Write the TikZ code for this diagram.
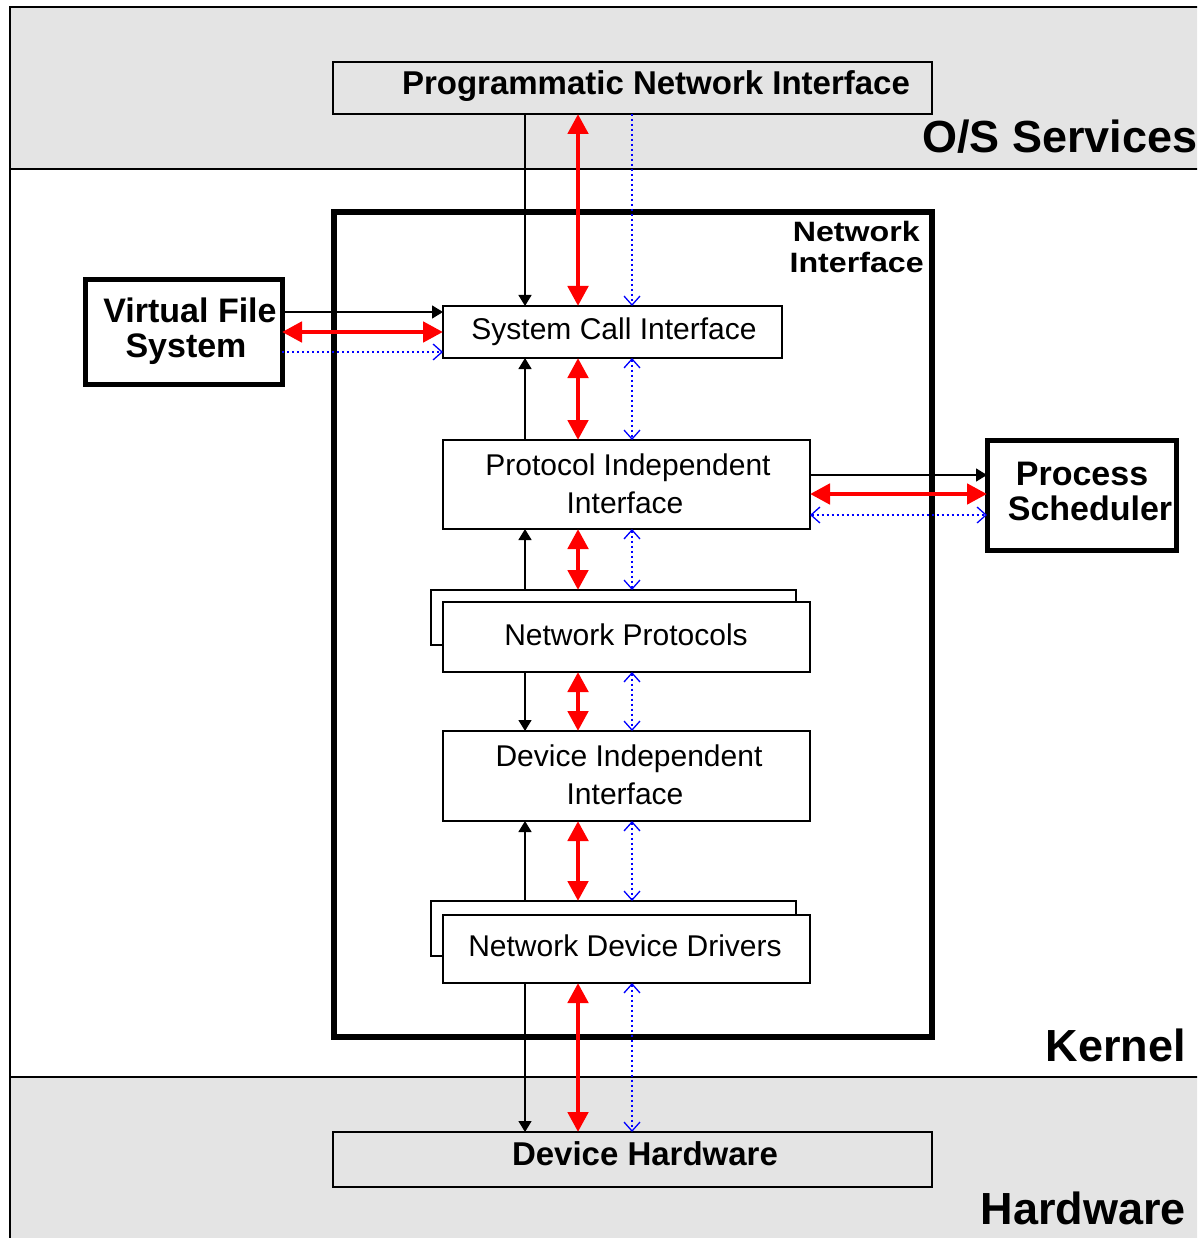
\documentclass[tikz,border=0pt]{standalone}
\usepackage{fontspec}
\setmainfont{Liberation Sans}
\newfontfamily\widefont[FakeStretch=1.15]{Liberation Sans}
\usetikzlibrary{arrows.meta}
\definecolor{bandgray}{RGB}{228,228,228}
\tikzset{
  thinbox/.style={draw, line width=1.5pt, fill=white, inner sep=0pt, outer sep=0pt, anchor=north west},
  graybox/.style={thinbox, fill=bandgray},
  thickbox/.style={draw, line width=5pt, fill=white, inner sep=0pt, outer sep=0pt, anchor=north west},
  txt/.style={inner sep=0pt, anchor=base, font=\fontsize{30}{36}\selectfont},
  btxt/.style={inner sep=0pt, anchor=base, font=\fontsize{33}{36}\selectfont\bfseries},
  btxtl/.style={inner sep=0pt, anchor=base, font=\fontsize{34}{36}\selectfont\bfseries},
  bigtxt/.style={inner sep=0pt, font=\fontsize{45}{50}\selectfont\bfseries},
  nitxt/.style={inner sep=0pt, anchor=base east, font=\fontsize{28}{30}\selectfont\widefont\bfseries},
  blk/.style={line width=1.4pt, -{Triangle[length=11pt,width=13pt]}},
  redarr/.style={line width=4.8pt, red, {Triangle[length=20pt,width=20pt]}-{Triangle[length=20pt,width=20pt]}},
  bluearr/.style={line width=1.6pt, blue, dash pattern=on 2pt off 3pt, -{Straight Barb[length=9pt,width=16pt,line width=1.3pt]}},
  bluearrs/.style={line width=1.6pt, blue, dash pattern=on 2pt off 3pt, {Straight Barb[length=9pt,width=16pt,line width=1.3pt]}-{Straight Barb[length=9pt,width=16pt,line width=1.3pt]}},
}
\begin{document}
\begin{tikzpicture}[x=1pt,y=-1pt]
\useasboundingbox (0,0) rectangle (1197,1238);
\clip (0,0) rectangle (1197,1238);
% bands
\fill[white] (0,0) rectangle (1197,1238);
\fill[bandgray] (10,7) rectangle (1220,169);
\fill[bandgray] (10,1077) rectangle (1220,1260);
\draw[line width=2pt] (1220,7) -- (10,7) -- (10,1260);
\draw[line width=1.5pt] (10,169) -- (1220,169);
\draw[line width=1.5pt] (10,1077) -- (1220,1077);
% band labels
\node[bigtxt, anchor=base west] (oss) at (922,153) {O/S Services};
\node[bigtxt, anchor=base east] (kern) at (1186,1061) {Kernel};
\node[bigtxt, anchor=base east] (hw) at (1186,1224) {Hardware};
% network interface frame
\node[draw, line width=5.5pt, inner sep=0pt, outer sep=0pt, anchor=north west, minimum width=598pt, minimum height=825pt] (ni) at (334,212) {};
\node[nitxt] (ni1) at (920,242) {Network};
\node[nitxt] (ni2) at (924,273) {Interface};
% boxes
\node[graybox, minimum width=599pt, minimum height=52pt] (pni) at (333,62) {};
\node[btxt] (pnit) at (656,95) {Programmatic Network Interface};
\node[graybox, minimum width=599pt, minimum height=55pt] (dh) at (333,1132) {};
\node[btxt] (dht) at (645,1165) {Device Hardware};
\node[thickbox, minimum width=197pt, minimum height=104pt] (vfs) at (85,280) {};
\node[btxtl] (vfs1) at (190,323) {Virtual File};
\node[btxtl] (vfs2) at (186,357) {System};
\node[thickbox, minimum width=189pt, minimum height=110pt] (ps) at (987,440) {};
\node[btxtl] (ps1) at (1082,485) {Process};
\node[btxtl] (ps2) at (1090,520) {Scheduler};
\node[thinbox, minimum width=339pt, minimum height=52pt] (sci) at (443,306) {};
\node[txt] (scit) at (614,339) {System Call Interface};
\node[thinbox, minimum width=367pt, minimum height=89pt] (pii) at (443,440) {};
\node[txt] (pii1) at (628,475) {Protocol Independent};
\node[txt] (pii2) at (625,513) {Interface};
\node[thinbox, minimum width=365pt, minimum height=55pt] (npb) at (431,590) {};
\node[thinbox, minimum width=367pt, minimum height=70pt] (npf) at (443,602) {};
\node[txt] (npt) at (626,645) {Network Protocols};
\node[thinbox, minimum width=367pt, minimum height=90pt] (dii) at (443,731) {};
\node[txt] (dii1) at (629,766) {Device Independent};
\node[txt] (dii2) at (625,804) {Interface};
\node[thinbox, minimum width=365pt, minimum height=55pt] (nddb) at (431,901) {};
\node[thinbox, minimum width=367pt, minimum height=68pt] (nddf) at (443,915) {};
\node[txt] (nddt) at (625,956) {Network Device Drivers};
% connector columns / rows
\coordinate (xk) at (525,0);
\coordinate (xr) at (578,0);
\coordinate (xb) at (632,0);
\coordinate (yk1) at (0,312);
\coordinate (yr1) at (0,332);
\coordinate (yb1) at (0,352);
\coordinate (yk2) at (0,475);
\coordinate (yr2) at (0,494);
\coordinate (yb2) at (0,515);
% PNI - SCI
\draw[blk] (pni.south -| xk) -- (sci.north -| xk);
\draw[redarr] (pni.south -| xr) -- (sci.north -| xr);
\draw[bluearr] (pni.south -| xb) -- (sci.north -| xb);
% SCI - PII
\draw[blk] (pii.north -| xk) -- (sci.south -| xk);
\draw[redarr] (sci.south -| xr) -- (pii.north -| xr);
\draw[bluearrs] (sci.south -| xb) -- (pii.north -| xb);
% PII - NP
\draw[blk] (npb.north -| xk) -- (pii.south -| xk);
\draw[redarr] (pii.south -| xr) -- (npb.north -| xr);
\draw[bluearrs] (pii.south -| xb) -- (npb.north -| xb);
% NP - DII
\draw[blk] (npf.south -| xk) -- (dii.north -| xk);
\draw[redarr] (npf.south -| xr) -- (dii.north -| xr);
\draw[bluearrs] (npf.south -| xb) -- (dii.north -| xb);
% DII - NDD
\draw[blk] (nddb.north -| xk) -- (dii.south -| xk);
\draw[redarr] (dii.south -| xr) -- (nddb.north -| xr);
\draw[bluearrs] (dii.south -| xb) -- (nddb.north -| xb);
% NDD - DH
\draw[blk] (nddf.south -| xk) -- (dh.north -| xk);
\draw[redarr] (nddf.south -| xr) -- (dh.north -| xr);
\draw[bluearrs] (nddf.south -| xb) -- (dh.north -| xb);
% VFS - SCI
\draw[blk] (vfs.east |- yk1) -- (sci.west |- yk1);
\draw[redarr] (vfs.east |- yr1) -- (sci.west |- yr1);
\draw[bluearr] (vfs.east |- yb1) -- (sci.west |- yb1);
% PII - PS
\draw[blk] (pii.east |- yk2) -- (ps.west |- yk2);
\draw[redarr] (pii.east |- yr2) -- (ps.west |- yr2);
\draw[bluearrs] (pii.east |- yb2) -- (ps.west |- yb2);
\end{tikzpicture}
\end{document}
